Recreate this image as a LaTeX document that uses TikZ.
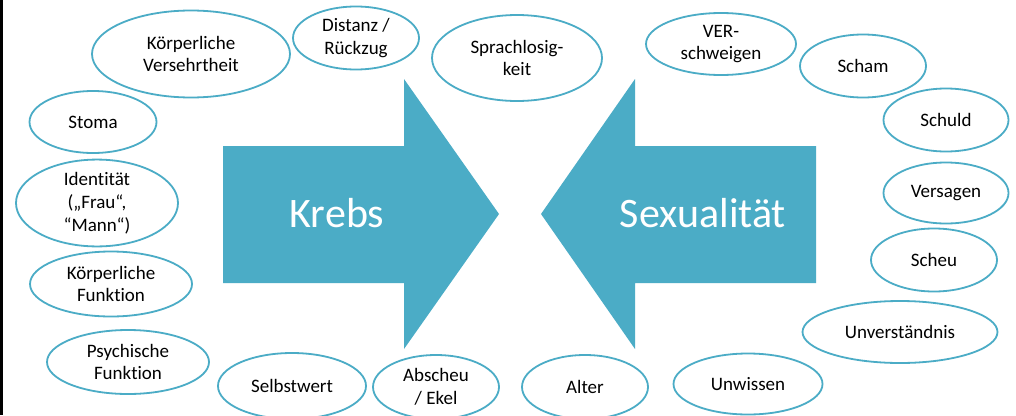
\documentclass[tikz,border=0pt]{standalone}
\usepackage{fontspec}
\setmainfont[Ligatures={NoCommon,NoContextual}]{Carlito}
\usetikzlibrary{shapes.geometric}
\definecolor{accent}{RGB}{75,172,198}
\begin{document}
\begin{tikzpicture}[x=1pt,y=-1pt,
  bubble/.style={ellipse,draw=accent,line width=1.8pt,fill=white,inner sep=0pt,
    align=center,font=\fontsize{19}{22.8}\selectfont,text=black},
  bigarrow/.style={fill=accent,draw=none},
  bigtext/.style={text=white,font=\fontsize{42}{46}\selectfont,inner sep=0pt,anchor=base}]
\useasboundingbox (0,0) rectangle (1016,415);
\clip (0,0) rectangle (1016,415);
\fill[white] (0,0) rectangle (1016,415);
\fill[black] (0,0) rectangle (3,415);
% arrows
\fill[bigarrow] (223,146) -- (404,146) -- (404,79) -- (499,214) -- (404,349) -- (404,283) -- (223,283) -- cycle;
\fill[bigarrow] (816,146) -- (635,146) -- (635,79) -- (541,214) -- (635,349) -- (635,283) -- (816,283) -- cycle;
\node[bigtext] (krebs) at (337,227) {Krebs};
\node[bigtext] (sex) at (703,227) {Sexualität};
% bubbles
\node[bubble,minimum width=198pt,minimum height=87pt] (kv) at (191,54) {Körperliche\\Versehrtheit};
\node[bubble,minimum width=126pt,minimum height=63pt] (dr) at (356,38) {Distanz /\\Rückzug};
\node[bubble,minimum width=170pt,minimum height=86pt] (sp) at (517,58) {Sprachlosig-\\keit};
\node[bubble,minimum width=150pt,minimum height=62pt] (vs) at (721,44) {VER-\\schweigen};
\node[bubble,minimum width=126pt,minimum height=63pt] (scham) at (863,66) {Scham};
\node[bubble,minimum width=125pt,minimum height=63pt] (schuld) at (946,120) {Schuld};
\node[bubble,minimum width=125pt,minimum height=61pt] (vers) at (946,193) {Versagen};
\node[bubble,minimum width=126pt,minimum height=63pt] (scheu) at (934,260) {Scheu};
\node[bubble,minimum width=195pt,minimum height=62pt] (unv) at (900,332) {Unverständnis};
\node[bubble,minimum width=149pt,minimum height=61pt] (unw) at (748,384) {Unwissen};
\node[bubble,minimum width=126pt,minimum height=64pt] (alter) at (585,387) {Alter};
\node[bubble,minimum width=126pt,minimum height=64pt] (ekel) at (436,387) {Abscheu\\/ Ekel};
\node[bubble,minimum width=148pt,minimum height=66pt] (selbst) at (292,386) {Selbstwert};
\node[bubble,minimum width=162pt,minimum height=64pt] (psy) at (128,362) {Psychische\\Funktion};
\node[bubble,minimum width=162pt,minimum height=65pt] (kf) at (111,284) {Körperliche\\Funktion};
\node[bubble,minimum width=162pt,minimum height=86pt] (id) at (97,203) {Identität\\(„Frau“,\\“Mann“)};
\node[bubble,minimum width=127pt,minimum height=62pt] (stoma) at (93,122) {Stoma};
\end{tikzpicture}
\end{document}
